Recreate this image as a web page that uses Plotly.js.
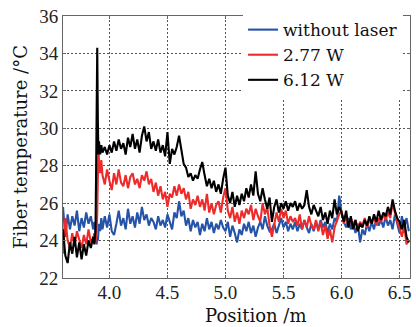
<!DOCTYPE html>
<html>
<head>
<meta charset="utf-8">
<script src="https://cdn.plot.ly/plotly-3.0.1.min.js"></script>
<style>html,body{margin:0;padding:0;background:#fff;}#chart{width:416px;height:327px;}</style>
</head>
<body>
<div id="chart"></div>
<script>
// Position along the fiber (m)
const positions = [
  3.60,3.62,3.64,3.66,3.68,3.70,3.72,3.74,3.76,3.78,3.80,3.82,3.84,3.86,
  3.87,3.88,3.885,3.89,3.895,3.90,3.905,3.91,3.92,3.93,3.94,
  3.96,3.98,
  4.00,4.02,4.04,4.06,4.08,4.10,4.12,4.14,4.16,4.18,
  4.20,4.22,4.24,4.26,4.28,4.30,4.32,4.34,4.36,4.38,
  4.40,4.42,4.44,4.46,4.48,4.50,4.52,4.54,4.56,4.58,
  4.60,4.62,4.64,4.66,4.68,4.70,4.72,4.74,4.76,4.78,
  4.80,4.82,4.84,4.86,4.88,4.90,4.92,4.94,4.96,4.98,
  5.00,5.02,5.04,5.06,5.08,5.10,5.12,5.14,5.16,5.18,
  5.20,5.22,5.24,5.26,5.28,5.30,5.32,5.34,5.36,5.38,
  5.40,5.42,5.44,5.46,5.48,5.50,5.52,5.54,5.56,5.58,
  5.60,5.62,5.64,5.66,5.68,5.70,5.72,5.74,5.76,5.78,
  5.80,5.82,5.84,5.86,5.88,5.90,5.92,5.94,5.96,5.98,
  6.00,6.02,6.04,6.06,6.08,6.10,6.12,6.14,6.16,6.18,
  6.20,6.22,6.24,6.26,6.28,6.30,6.32,6.34,6.36,6.38,
  6.40,6.42,6.44,6.46,6.48,6.50,6.52,6.54,6.56,6.58
];

// Fiber temperature (°C) without laser
const tempNoLaser = [
  25.8,24.2,25.4,24.6,25.3,24.8,25.6,24.5,25.2,24.7,25.5,24.9,25.3,24.6,
  25.0,24.3,24.0,23.8,24.2,24.0,24.4,24.9,24.5,25.2,24.6,
  25.3,24.7,
  25.4,24.5,24.3,24.9,25.6,24.8,25.2,24.6,25.7,24.9,
  25.3,24.7,25.5,24.9,25.8,25.1,25.4,24.8,25.2,25.0,
  24.6,25.3,24.8,25.1,24.7,25.4,25.0,24.6,25.5,25.2,
  26.1,25.3,25.6,24.8,25.2,24.5,25.1,24.7,25.0,24.3,
  24.9,24.5,25.2,24.6,25.0,24.4,24.9,24.6,25.1,24.7,
  24.5,25.0,24.2,24.8,24.4,23.9,24.6,24.3,24.9,24.5,
  25.0,24.4,24.8,24.2,24.7,25.0,24.6,25.3,24.8,24.5,
  24.6,24.9,24.4,24.8,25.2,24.7,25.0,24.5,24.9,24.6,
  25.0,24.5,24.9,24.6,25.1,24.7,24.4,24.9,24.5,25.0,
  24.6,25.1,24.7,25.0,24.4,24.9,24.6,25.2,25.0,26.4,
  25.5,25.0,24.7,25.2,24.6,25.0,24.4,24.9,23.9,24.6,
  24.3,24.9,24.5,25.0,24.6,25.2,24.8,25.1,24.7,25.3,
  24.8,25.1,24.6,25.4,24.9,24.4,25.3,24.7,25.2,24.5
];

// Fiber temperature (°C) at 2.77 W
const temp277 = [
  23.3,25.2,24.0,23.6,24.4,23.7,24.5,24.0,23.6,24.3,23.8,24.6,23.9,24.1,
  24.4,23.9,24.2,24.6,25.5,27.0,29.0,28.2,27.6,28.3,27.5,
  27.0,27.8,
  27.2,26.7,27.6,27.0,27.8,27.1,26.9,27.5,26.8,27.4,
  27.6,27.0,27.3,26.8,27.5,27.2,27.7,27.0,27.3,26.6,
  27.1,26.4,26.9,26.2,26.6,25.8,26.5,26.3,26.9,26.4,
  27.0,26.5,26.8,26.2,26.6,25.7,26.2,25.9,26.4,25.8,
  26.2,25.6,26.5,25.5,26.0,25.4,25.9,26.1,25.5,26.3,
  26.8,25.6,25.2,25.8,25.0,25.5,24.9,25.6,25.2,25.7,
  25.4,25.9,25.1,25.7,25.3,25.0,26.0,25.4,25.8,24.8,
  24.2,24.9,25.5,25.0,25.7,25.2,25.6,24.9,25.3,25.0,
  25.2,24.8,25.4,24.6,25.1,24.7,25.3,24.8,24.6,25.1,
  24.5,25.0,24.3,24.8,24.1,24.6,23.9,24.7,25.1,25.4,
  25.6,24.9,25.3,24.7,25.2,24.8,25.1,24.6,25.0,24.8,
  25.2,24.7,25.1,24.9,25.3,24.8,25.2,25.0,25.4,25.1,
  25.5,25.2,26.0,25.5,25.0,24.7,24.2,24.8,23.8,24.0
];

// Fiber temperature (°C) at 6.12 W
const temp612 = [
  24.6,23.2,22.8,23.9,23.3,24.2,23.1,23.9,23.0,23.8,23.2,24.0,23.6,24.2,
  23.8,24.5,27.5,31.2,34.3,30.5,28.6,29.3,28.6,29.1,28.7,
  29.0,28.6,
  29.1,28.7,29.3,28.8,29.4,28.9,29.2,28.6,29.5,29.0,
  29.7,28.9,29.4,28.7,29.6,30.1,29.3,29.8,28.9,29.3,
  28.8,29.4,28.7,29.1,28.5,29.8,28.1,28.9,28.6,29.0,
  29.6,28.8,28.1,27.9,27.4,27.6,27.2,27.5,27.3,27.8,
  28.2,27.5,26.9,27.3,26.8,27.2,26.6,27.0,26.5,27.3,
  27.9,26.4,26.0,26.6,25.8,26.4,25.9,26.5,26.1,26.8,
  26.3,27.0,26.4,27.7,26.5,26.1,26.8,26.2,25.7,26.3,
  25.0,25.8,26.2,25.5,26.0,25.7,26.1,25.6,26.0,25.8,
  26.1,25.6,26.0,25.7,25.9,26.7,25.8,25.4,25.9,25.6,
  25.3,25.8,25.1,25.5,24.9,25.6,25.2,26.2,25.4,25.8,
  25.5,25.0,25.6,24.7,25.3,24.6,25.1,24.5,24.9,24.7,
  25.1,24.8,25.3,24.9,25.4,25.0,25.6,25.1,25.5,25.3,
  25.8,25.4,26.2,25.6,25.2,25.0,24.6,25.1,24.2,23.9
];

const seriesNames = ['without laser', '2.77 W', '6.12 W'];
const seriesColors = ['#2553a8', '#ee2b2b', '#000000'];
const xTickVals = [4.0, 4.5, 5.0, 5.5, 6.0, 6.5];
const xTickText = ['4.0', '4.5', '5.0', '5.5', '6.0', '6.5'];
const yTickVals = [22, 24, 26, 28, 30, 32, 34, 36];
const yTickText = ['22', '24', '26', '28', '30', '32', '34', '36'];

const seriesValues = [tempNoLaser, temp277, temp612];
const traces = seriesValues.map((vals, i) => ({
  type: 'scatter',
  mode: 'lines',
  x: positions,
  y: vals,
  name: seriesNames[i],
  line: {color: seriesColors[i], width: 2.1}
}));

const serif = 'DejaVu Serif, serif';
const tickFont = {family: 'Liberation Serif, serif', size: 19, color: '#222'};

const axisCommon = {
  showline: true,
  linecolor: '#666',
  linewidth: 1,
  mirror: 'ticks',
  ticks: 'inside',
  ticklen: 3,
  tickcolor: '#666',
  showgrid: true,
  gridcolor: '#555',
  gridwidth: 1,
  griddash: '2px,2px',
  zeroline: false,
  tickfont: tickFont
};

const layout = {
  width: 416,
  height: 327,
  margin: {l: 63, r: 6, t: 16, b: 49},
  paper_bgcolor: '#fff',
  plot_bgcolor: '#fff',
  showlegend: true,
  legend: {
    x: 0.98, xanchor: 'right', y: 1.015, yanchor: 'top',
    bgcolor: '#fff', borderwidth: 0,
    font: {family: serif, size: 17, color: '#111'},
    tracegroupgap: 0
  },
  xaxis: Object.assign({}, axisCommon, {
    range: [3.6, 6.59],
    tickmode: 'array',
    tickvals: xTickVals,
    ticktext: xTickText,
    ticklabelstandoff: -3
  }),
  yaxis: Object.assign({}, axisCommon, {
    range: [22, 36],
    tickmode: 'array',
    tickvals: yTickVals,
    ticktext: yTickText,
    title: {text: 'Fiber temperature /°C', font: {family: serif, size: 18, color: '#111'}, standoff: 6}
  }),
  annotations: [{
    text: 'Position /m',
    xref: 'paper', yref: 'paper',
    x: 0.555, y: -0.145,
    xanchor: 'center', yanchor: 'middle',
    showarrow: false,
    font: {family: serif, size: 18, color: '#111'}
  }]
};

Plotly.newPlot('chart', traces, layout, {displayModeBar: false, staticPlot: true});
</script>
</body>
</html>
